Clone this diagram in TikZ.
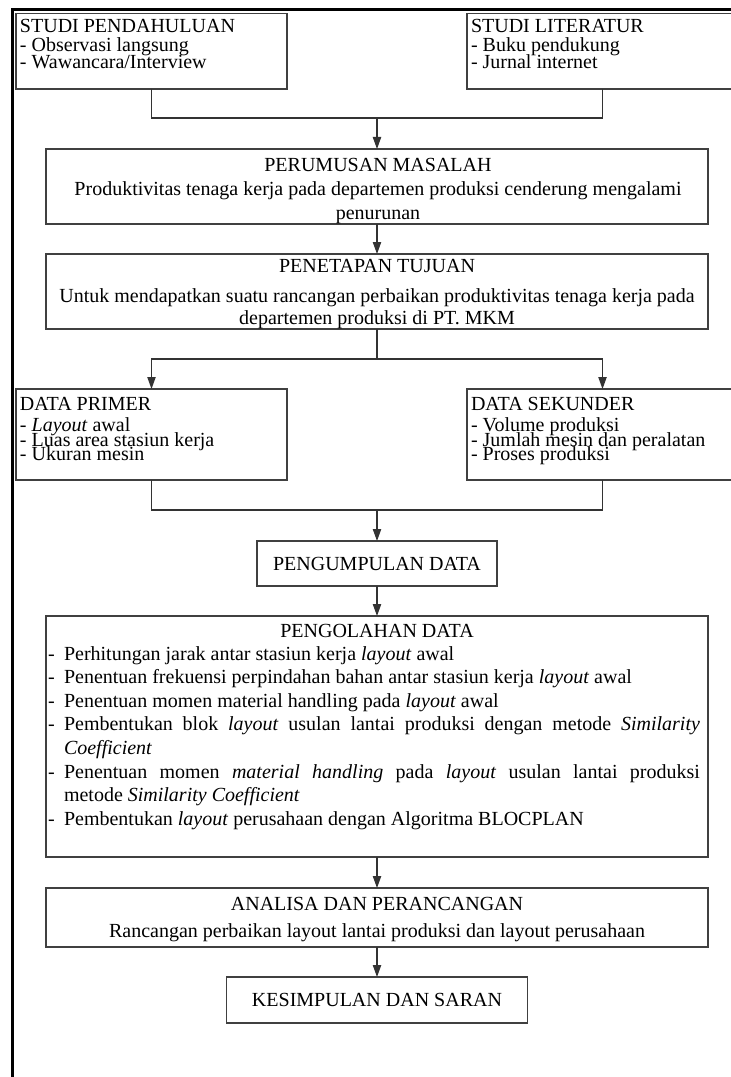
\documentclass[tikz,border=0pt]{standalone}
\usepackage{fontspec}
\setmainfont{Liberation Serif}
\usetikzlibrary{arrows.meta}
\newcommand{\abox}[5]{\node[box, minimum width={(#4)*0.6pt}, minimum height={(#5)*0.6pt}] (#1) at (#2,#3) {};}
\begin{document}
\begin{tikzpicture}[x=0.6pt,y=-0.6pt,
  box/.style={draw=black!75, line width=0.7pt, rectangle, inner sep=0pt, outer sep=0pt},
  txt/.style={inner sep=0pt, outer sep=0pt, font=\fontsize{12}{14}\selectfont},
  tl/.style={txt, anchor=base west},
  tc/.style={txt, anchor=base},
  conn/.style={draw=black!80, line width=0.7pt},
  arr/.style={conn, -{Triangle[length=7.2pt,width=5pt]}},
  frame/.style={line width=1.5pt, draw=black}
]
\useasboundingbox (0,0) rectangle (730,1077);
\draw[frame] (12.5,1078) -- (12.5,9.7) -- (731,9.7);

% boxes
\abox{b1}{151.5}{51.25}{271}{75.5}
\abox{b2}{602.5}{51.25}{271}{75.5}
\abox{b3}{377}{186.5}{662}{75}
\abox{b4}{377}{291.5}{662}{75}
\abox{b5}{151.5}{434.5}{271}{91}
\abox{b6}{602.5}{434.5}{271}{91}
\abox{b7}{377}{563.5}{240}{45}
\abox{b8}{377}{736.5}{662}{241}
\abox{b9}{377}{917.5}{662}{59}
\abox{b10}{377}{1000}{301}{46}

% junctions
\coordinate (j1) at (377,118);
\coordinate (j2) at (377,359);
\coordinate (j3) at (377,510);

% connectors
\draw[conn] (b1.south) |- (j1) -| (b2.south);
\draw[arr] (j1) -- (b3.north);
\draw[arr] (b3.south) -- (b4.north);
\draw[conn] (b4.south) -- (j2);
\draw[arr] (j2) -| (b5.north);
\draw[arr] (j2) -| (b6.north);
\draw[conn] (b5.south) |- (j3) -| (b6.south);
\draw[arr] (j3) -- (b7.north);
\draw[arr] (b7.south) -- (b8.north);
\draw[arr] (b8.south) -- (b9.north);
\draw[arr] (b9.south) -- (b10.north);

% texts box 1
\node[tl] (t1a) at (20,33) {STUDI PENDAHULUAN};
\node[tl] (t1b) at (20,52) {- Observasi langsung};
\node[tl] (t1c) at (20,68.5) {- Wawancara/Interview};
% box 2
\node[tl] (t2a) at (471,33) {STUDI LITERATUR};
\node[tl] (t2b) at (471,52) {- Buku pendukung};
\node[tl] (t2c) at (471,68.5) {- Jurnal internet};
% box 3
\node[tc] (t3a) at (378,172) {PERUMUSAN MASALAH};
\node[tc] (t3b) at (378,196) {Produktivitas tenaga kerja pada departemen produksi cenderung mengalami};
\node[tc] (t3c) at (378,219) {penurunan};
% box 4
\node[tc] (t4a) at (377,272) {PENETAPAN TUJUAN};
\node[tc] (t4b) at (377,302) {Untuk mendapatkan suatu rancangan perbaikan produktivitas tenaga kerja pada};
\node[tc] (t4c) at (377,324) {departemen produksi di PT. MKM};
% box 5
\node[tl] (t5a) at (20,410) {DATA PRIMER};
\node[tl] (t5b) at (20,431.5) {- \textit{Layout} awal};
\node[tl] (t5c) at (20,446) {- Luas area stasiun kerja};
\node[tl] (t5d) at (20,460.5) {- Ukuran mesin};
% box 6
\node[tl] (t6a) at (471,410) {DATA SEKUNDER};
\node[tl] (t6b) at (471,431.5) {- Volume produksi};
\node[tl] (t6c) at (471,446) {- Jumlah mesin dan peralatan};
\node[tl] (t6d) at (471,460.5) {- Proses produksi};
% box 7
\node[tc] (t7) at (377,570) {PENGUMPULAN DATA};
% box 8
\node[tc] (t8) at (377,637) {PENGOLAHAN DATA};
\node[tl] (d1) at (48,660) {-};
\node[tl] (i1) at (64,660) {Perhitungan jarak antar stasiun kerja \textit{layout} awal};
\node[tl] (d2) at (48,683.6) {-};
\node[tl] (i2) at (64,683.6) {Penentuan frekuensi perpindahan bahan antar stasiun kerja \textit{layout} awal};
\node[tl] (d3) at (48,707.2) {-};
\node[tl] (i3) at (64,707.2) {Penentuan momen material handling pada \textit{layout} awal};
\node[tl] (d4) at (48,730.8) {-};
\node[tl] (i4) at (64,730.8) {\makebox[381.6pt][s]{Pembentukan blok \textit{layout} usulan lantai produksi dengan metode \textit{Similarity}}};
\node[tl] (i4b) at (64,754.4) {\textit{Coefficient}};
\node[tl] (d5) at (48,778) {-};
\node[tl] (i5) at (64,778) {\makebox[381.6pt][s]{Penentuan momen \textit{material handling} pada \textit{layout} usulan lantai produksi}};
\node[tl] (i5b) at (64,801.6) {metode \textit{Similarity Coefficient}};
\node[tl] (d6) at (48,825.2) {-};
\node[tl] (i6) at (64,825.2) {Pembentukan \textit{layout} perusahaan dengan Algoritma BLOCPLAN};
% box 9
\node[tc] (t9a) at (377,910) {ANALISA DAN PERANCANGAN};
\node[tc] (t9b) at (377,937) {Rancangan perbaikan layout lantai produksi dan layout perusahaan};
% box 10
\node[tc] (t10) at (377,1006.5) {KESIMPULAN DAN SARAN};
\end{tikzpicture}
\end{document}
